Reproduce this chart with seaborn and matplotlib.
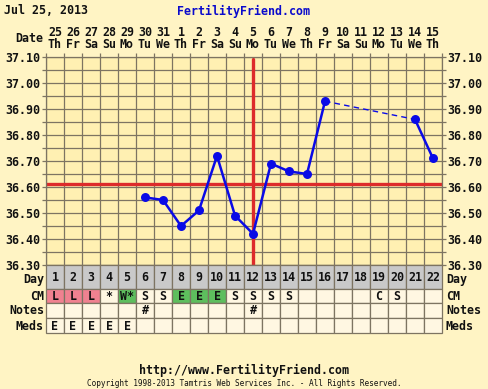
import matplotlib
matplotlib.use("Agg")
import matplotlib.pyplot as plt
import numpy as np
import pandas as pd
import seaborn as sns
from matplotlib.patches import Rectangle

sns.set_theme(style="white")
plt.rcParams["font.family"] = ["DejaVu Sans Mono"]
plt.rcParams["font.weight"] = "bold"

# ---------------------------------------------------------------
# Data
# ---------------------------------------------------------------
TITLE_DATE = "Jul 25, 2013"
CYCLE_DAYS = list(range(1, 23))
DATE_NUMS = ["25", "26", "27", "28", "29", "30", "31", "1", "2", "3", "4",
             "5", "6", "7", "8", "9", "10", "11", "12", "13", "14", "15"]
WEEKDAYS = ["Th", "Fr", "Sa", "Su", "Mo", "Tu", "We", "Th", "Fr", "Sa", "Su",
            "Mo", "Tu", "We", "Th", "Fr", "Sa", "Su", "Mo", "Tu", "We", "Th"]

TEMP_DAYS = [6, 7, 8, 9, 10, 11, 12, 13, 14, 15, 16, 21, 22]
TEMPS = [36.56, 36.55, 36.45, 36.51, 36.72, 36.49, 36.42,
         36.69, 36.66, 36.65, 36.93, 36.86, 36.71]
SEGMENTS = [0, 0, 0, 0, 0, 0, 0, 0, 0, 0, 0, 1, 1]

COVERLINE = 36.61
OVULATION_DAY = 12

CM = ["L", "L", "L", "*", "W*", "S", "S", "E", "E", "E", "S",
      "S", "S", "S", "", "", "", "", "C", "S", "", ""]
NOTES = ["", "", "", "", "", "#", "", "", "", "", "",
         "#", "", "", "", "", "", "", "", "", "", ""]
MEDS = ["E", "E", "E", "E", "E", "", "", "", "", "", "",
        "", "", "", "", "", "", "", "", "", "", ""]

# ---------------------------------------------------------------
# Style
# ---------------------------------------------------------------
W, H = 488, 389
BG = "#FFF4C4"
PLOT_BG = "#FFF0B2"
CELL_BG = "#FFF7E2"
DAY_BG = "#C9C9C9"
GRID = "#7D7462"
BLUE = "#0A0AE6"
RED = "#DD2B2B"
INK = "#111111"
CM_COLORS = {"L": "#F08190", "W*": "#5DBE5D", "E": "#5DBE5D"}
FS = 8.4

fig = plt.figure(figsize=(W / 100, H / 100), dpi=100, facecolor=BG)

left, right = 46, 442
top, bottom = 57, 265
ax = fig.add_axes([left / W, 1 - bottom / H, (right - left) / W, (bottom - top) / H])
ax.set_facecolor(PLOT_BG)
ax.set_xlim(0.5, 22.5)
ax.set_ylim(36.30, 37.10)

for y in np.arange(36.30, 37.101, 0.05):
    ax.axhline(y, color=GRID, lw=0.9, zorder=1)
for x in np.arange(0.5, 22.6, 1):
    ax.axvline(x, color=GRID, lw=0.9, zorder=1)

ax.axhline(COVERLINE, color=RED, lw=2.4, zorder=2)
ax.axvline(OVULATION_DAY, color=RED, lw=2.4, zorder=2, ymax=0.99)

df = pd.DataFrame({"day": TEMP_DAYS, "temp": TEMPS, "seg": SEGMENTS})
sns.lineplot(data=df, x="day", y="temp", units="seg", estimator=None,
             color=BLUE, lw=1.8, ax=ax, zorder=3)
# dashed link over missing days
gap = [i for i in range(1, len(TEMP_DAYS)) if SEGMENTS[i] != SEGMENTS[i - 1]]
for i in gap:
    ax.plot(TEMP_DAYS[i - 1:i + 1], TEMPS[i - 1:i + 1], color=BLUE, lw=1.0,
            ls=(0, (4, 3)), zorder=3)
sns.scatterplot(data=df, x="day", y="temp", color=BLUE, s=42,
                edgecolor=BLUE, linewidth=0, ax=ax, zorder=4, legend=False)

ax.set_xlabel("")
ax.set_ylabel("")
ax.set_xticks(np.arange(0.5, 22.6, 1))
ax.set_xticklabels([])
ax.set_yticks(np.arange(36.30, 37.101, 0.10))
ax.set_yticks(np.arange(36.35, 37.10, 0.10), minor=True)
ax.set_yticklabels([f"{v:.2f}" for v in np.arange(36.30, 37.101, 0.10)])
ax.tick_params(axis="y", which="both", left=True, right=True, labelleft=True,
               labelright=True, length=3, width=0.9, color=GRID, pad=1,
               labelsize=FS, labelcolor=INK)
ax.tick_params(axis="x", top=True, bottom=False, length=3, width=0.9, color=GRID)
for lab in ax.get_yticklabels():
    lab.set_fontweight("bold")
for sp in ax.spines.values():
    sp.set_color(GRID)
    sp.set_linewidth(0.9)

# date header
for d, num, wd in zip(CYCLE_DAYS, DATE_NUMS, WEEKDAYS):
    xf = (left + (d - 0.5) * (right - left) / 22) / W
    fig.text(xf, 1 - 33 / H, num, ha="center", va="center", fontsize=FS,
             fontweight="bold", color=INK)
    fig.text(xf, 1 - 45 / H, wd, ha="center", va="center", fontsize=FS,
             fontweight="bold", color=INK)
fig.text(43 / W, 1 - 39 / H, "Date", ha="right", va="center", fontsize=FS,
         fontweight="bold", color=INK)

fig.text(4 / W, 1 - 11 / H, TITLE_DATE, ha="left", va="center", fontsize=FS,
         fontweight="bold", color=INK)
fig.text(244 / W, 1 - 11 / H, "FertilityFriend.com", ha="center", va="center",
         fontsize=FS, fontweight="bold", color="#0A0ACC")

# ---------------------------------------------------------------
# Table rows below the chart
# ---------------------------------------------------------------
row_names = ["Day", "CM", "Notes", "Meds"]
row_edges = [0, 24, 38, 53, 68]
tbottom = 333
tax = fig.add_axes([left / W, 1 - tbottom / H, (right - left) / W, (tbottom - bottom) / H])
tax.set_xlim(0.5, 22.5)
tax.set_ylim(row_edges[-1], 0)
tax.axis("off")

row_values = [[str(d) for d in CYCLE_DAYS], CM, NOTES, MEDS]
for r, (name, vals) in enumerate(zip(row_names, row_values)):
    y0, y1 = row_edges[r], row_edges[r + 1]
    for d, v in zip(CYCLE_DAYS, vals):
        if r == 0:
            fc = DAY_BG
        elif r == 1:
            fc = CM_COLORS.get(v, CELL_BG)
        else:
            fc = CELL_BG
        tax.add_patch(Rectangle((d - 0.5, y0), 1, y1 - y0, facecolor=fc,
                                edgecolor=GRID, lw=0.9, clip_on=False))
        if v:
            tax.text(d, (y0 + y1) / 2 + 0.5, v, ha="center", va="center",
                     fontsize=FS, fontweight="bold", color=INK)
    yc = (y0 + y1) / 2 + (2 if r == 0 else 0.5)
    yf = 1 - (bottom + yc) / H
    fig.text(44 / W, yf, name, ha="right", va="center", fontsize=FS,
             fontweight="bold", color=INK)
    fig.text(446 / W, yf, name, ha="left", va="center", fontsize=FS,
             fontweight="bold", color=INK)

fig.text(244 / W, 1 - 370 / H, "http://www.FertilityFriend.com", ha="center",
         va="center", fontsize=FS, fontweight="bold", color=INK)
fig.text(244 / W, 1 - 383 / H,
         "Copyright 1998-2013 Tamtris Web Services Inc. - All Rights Reserved.",
         ha="center", va="center", fontsize=5.6, fontweight="normal",
         color=INK)

fig.savefig("out.png", dpi=100, facecolor=BG)
